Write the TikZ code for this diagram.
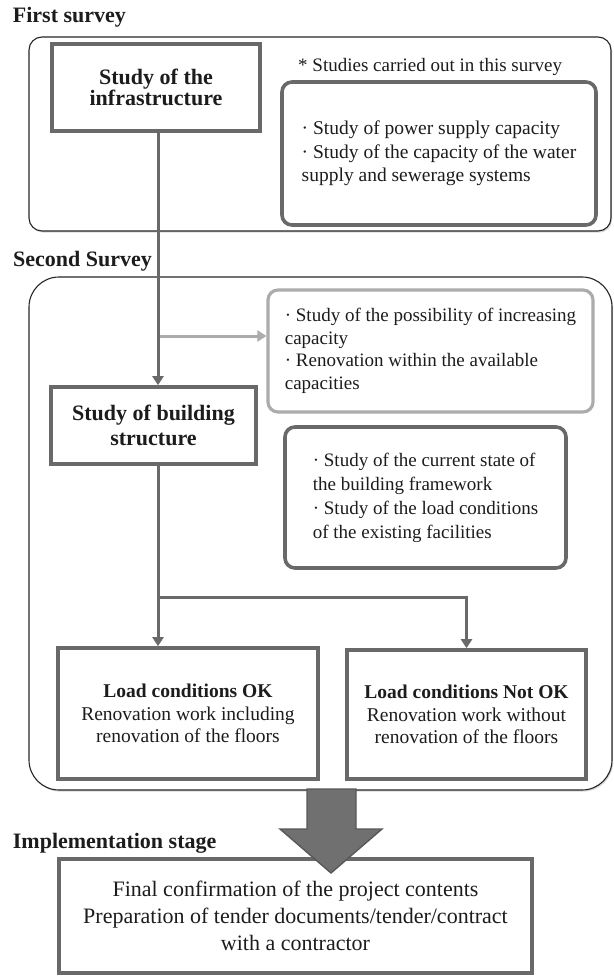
\documentclass[tikz,border=0pt]{standalone}
\usepackage{fontspec}
\setmainfont{Liberation Serif}
\usetikzlibrary{arrows.meta,shadows}
\definecolor{boxgray}{RGB}{105,105,105}
\definecolor{lightgray2}{RGB}{172,172,172}
\definecolor{inkgray}{RGB}{28,28,28}
\definecolor{blockfill}{RGB}{112,112,112}
\definecolor{blockedge}{RGB}{88,88,88}
\tikzset{
  every node/.style={text=inkgray, font=\fontsize{19.5}{22.5}\selectfont},
  stage/.style={draw=black!85, line width=1.1pt, fill=white,
    drop shadow={shadow xshift=1.2pt, shadow yshift=-1.6pt, fill=black!25, opacity=.6},
    inner sep=0pt},
  stepbox/.style={draw=boxgray, line width=3.6pt, fill=white, align=center, inner sep=0pt},
  notebox/.style={draw=boxgray, line width=3.6pt, rounded corners=10pt, fill=white, align=left, inner sep=0pt},
  lightbox/.style={draw=lightgray2, line width=3.2pt, rounded corners=10pt, fill=white, align=left, inner sep=0pt},
  section/.style={font=\fontsize{22}{26}\selectfont\bfseries, anchor=base west, inner sep=0pt},
  flow/.style={draw=boxgray, line width=3pt},
  flowarrow/.style={flow, -{Triangle[length=9pt,width=11pt]}},
  sidearrow/.style={draw=lightgray2, line width=3pt, -{Triangle[length=9pt,width=11pt]}},
}
\begin{document}
\begin{tikzpicture}[x=1pt,y=-1pt]
\useasboundingbox (0,0) rectangle (613,976);

% ---- First survey ----
\node[section] (lab1) at (12.7,23) {First survey};
\node[stage, rounded corners=13pt, minimum width=582pt, minimum height=194pt] (survey1) at (320,134) {};
\node[stepbox, font=\fontsize{22}{21.5}\selectfont\bfseries, minimum width=208pt, minimum height=87pt] (infra) at (156,87.5)
  {Study of the\\infrastructure};
\node[anchor=base west, inner sep=0pt, font=\fontsize{19}{22}\selectfont] (note) at (298,71.7) {* Studies carried out in this survey};
\node[notebox, font=\fontsize{19.5}{23.5}\selectfont, minimum width=314pt, minimum height=143pt] (infranote) at (439,153.5)
  {· Study of power supply capacity\\
   · Study of the capacity of the water\\
   supply and sewerage systems};

% ---- Second survey ----
\node[section] (lab2) at (13,266.7) {Second Survey};
\node[stage, rounded corners=30pt, minimum width=583pt, minimum height=513pt] (survey2) at (320.5,533.5) {};
\node[lightbox, font=\fontsize{19}{22.5}\selectfont, minimum width=325pt, minimum height=122pt] (capnote) at (430.5,351)
  {· Study of the possibility of increasing\\
   capacity\\
   · Renovation within the available\\
   capacities};
\node[stepbox, font=\fontsize{22}{25}\selectfont\bfseries, minimum width=205pt, minimum height=77pt] (building) at (153.5,425.5)
  {Study of building\\structure};
\node[notebox, font=\fontsize{19}{24}\selectfont, minimum width=281pt, minimum height=141pt] (structnote) at (425.5,497.5)
  {· Study of the current state of\\
   the building framework\\
   · Study of the load conditions\\
   of the existing facilities};
\node[stepbox, minimum width=260pt, minimum height=131pt] (loadok) at (188,713.5)
  {\textbf{Load conditions OK}\\Renovation work including\\renovation of the floors};
\node[stepbox, minimum width=239pt, minimum height=129pt] (loadng) at (466.5,714.5)
  {\textbf{Load conditions Not OK}\\Renovation work without\\renovation of the floors};

% ---- Implementation stage ----
\node[section] (lab3) at (12.7,848) {Implementation stage};
\node[stepbox, minimum width=473pt, minimum height=114pt,
      font=\fontsize{22}{27}\selectfont] (final) at (295.5,916)
  {Final confirmation of the project contents\\
   Preparation of tender documents/tender/contract\\
   with a contractor};

% ---- connectors ----
\coordinate (trunk) at (158,0);
\coordinate (tap) at (160,336);
\coordinate (split) at (158,597);
\draw[flowarrow] (infra.south -| trunk) -- (building.north -| trunk);
\draw[sidearrow] (tap) -- (capnote.west |- tap);
\draw[flow] (building.south -| split) -- (split);
\draw[flowarrow] (split) -- (loadok.north -| split);
\draw[flowarrow] (split) -| (loadng.north);

% ---- block arrow into the implementation stage ----
\coordinate (bstart) at (331.5,789);
\filldraw[fill=blockfill, draw=blockedge, line width=1.4pt, line join=miter]
  (bstart) ++(-24.5,0) -- ++(0,40) -- ++(-27,0) -- (331,873) -- (382,829) -- ++(-26,0) -- (356,789) -- cycle;
\end{tikzpicture}
\end{document}
